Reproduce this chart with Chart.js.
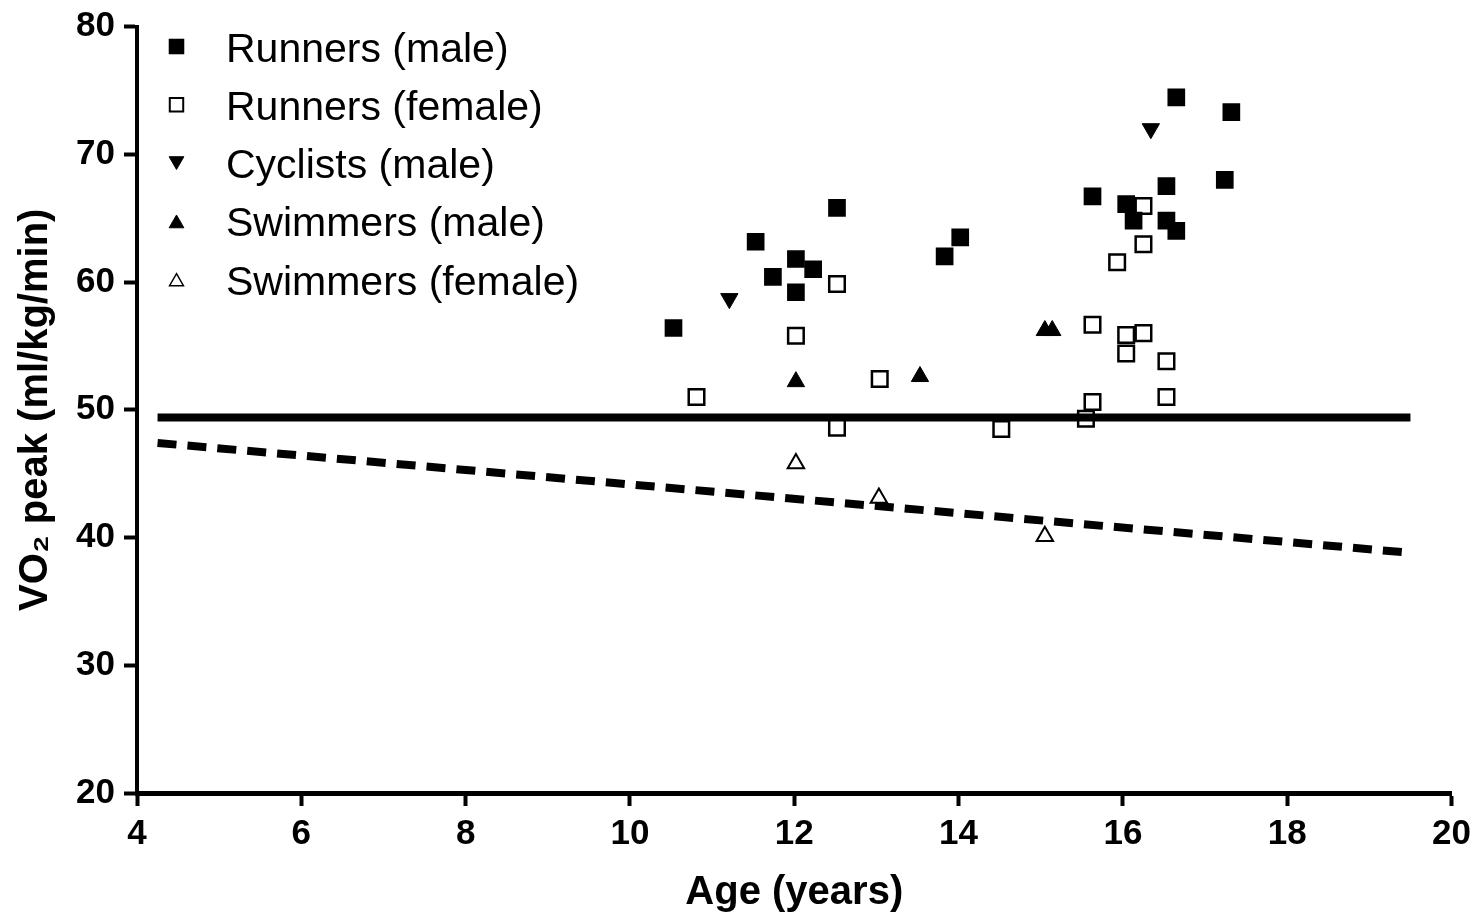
<!DOCTYPE html>
<html>
<head>
<meta charset="utf-8">
<title>VO2 peak vs age</title>
<script src="https://cdn.jsdelivr.net/npm/chart.js@4.4.1/dist/chart.umd.min.js"></script>
<style>
  html, body { margin: 0; padding: 0; background: #fff; }
  #wrap { width: 1482px; height: 913px; position: relative; }
</style>
</head>
<body>
<div id="wrap"><canvas id="vo2Chart"></canvas></div>
<script>
// Values (age in years, VO2 peak in ml/kg/min)
const runnersMaleAge = [10.53, 11.53, 11.74, 12.02, 12.02, 12.23, 12.52, 13.83, 14.02, 15.63, 16.04, 16.13, 16.53, 16.53, 16.65, 16.65, 17.24, 17.32];
const runnersMaleVO2 = [56.4, 63.15, 60.4, 61.8, 59.2, 61.0, 65.8, 62.0, 63.5, 66.7, 66.1, 64.8, 67.5, 64.8, 64.0, 74.45, 68.0, 73.3];

const runnersFemaleAge = [10.81, 12.02, 12.52, 12.52, 13.04, 14.52, 15.55, 15.63, 15.63, 15.93, 16.04, 16.04, 16.25, 16.25, 16.25, 16.53, 16.53];
const runnersFemaleVO2 = [51.0, 55.8, 59.85, 48.6, 52.4, 48.5, 49.3, 50.6, 56.65, 61.55, 55.85, 54.4, 56.0, 62.95, 65.95, 53.8, 51.0];

const cyclistsMaleAge = [11.21, 16.34];
const cyclistsMaleVO2 = [58.7, 72.0];

const swimmersMaleAge = [12.02, 13.53, 15.05, 15.14];
const swimmersMaleVO2 = [52.2, 52.6, 56.2, 56.2];

const swimmersFemaleAge = [12.02, 13.03, 15.05];
const swimmersFemaleVO2 = [45.8, 43.1, 40.1];

// Reference lines
const refLineAge = [4.25, 19.5];
const refSolidVO2 = [49.4, 49.4];
const refDashedVO2 = [47.4, 38.8];

// Axis ticks
const ageTicks = [4, 6, 8, 10, 12, 14, 16, 18, 20];
const vo2Ticks = [20, 30, 40, 50, 60, 70, 80];

const FONT = '"Liberation Sans", Arial, Helvetica, sans-serif';

function toPoints(xs, ys) {
    return xs.map((x, i) => ({ x: x, y: ys[i] }));
}

// Legend drawn in the top-left corner of the plot area
const cornerLegend = {
    id: 'cornerLegend',
    afterDraw(chart) {
        const ctx = chart.ctx;
        const area = chart.chartArea;
        const markerX = area.left + 39.5;
        const textX = area.left + 89;
        const firstRow = area.top + 20;
        const rowGap = 58.3;
        const items = chart.data.datasets.filter(ds => ds.legendMarker);

        ctx.save();
        items.forEach((ds, i) => {
            const y = firstRow + i * rowGap;
            const m = ds.legendMarker;
            let cy = y;
            if (ds.pointStyle === 'triangle') {
                cy += (ds.pointRotation === 180 ? -1 : 1) * m.radius / 4;
            }
            ctx.fillStyle = ds.pointBackgroundColor;
            ctx.strokeStyle = ds.pointBorderColor;
            ctx.lineWidth = m.borderWidth;
            Chart.helpers.drawPoint(ctx, {
                pointStyle: ds.pointStyle,
                radius: m.radius,
                rotation: ds.pointRotation || 0,
                borderWidth: m.borderWidth
            }, markerX, cy);

            ctx.fillStyle = '#000';
            ctx.font = '41px ' + FONT;
            ctx.textAlign = 'left';
            ctx.textBaseline = 'alphabetic';
            ctx.fillText(ds.label, textX, y + 15);
        });
        ctx.restore();
    }
};

const ctx = document.getElementById('vo2Chart');

new Chart(ctx, {
    type: 'scatter',
    data: {
        datasets: [
            {
                label: 'reference',
                data: toPoints(refLineAge, refSolidVO2),
                showLine: true,
                borderColor: '#000',
                borderWidth: 8,
                pointRadius: 0,
                order: 0
            },
            {
                label: 'reference (dashed)',
                data: toPoints(refLineAge, refDashedVO2),
                showLine: true,
                borderColor: '#000',
                borderWidth: 8,
                borderDash: [19, 11],
                borderCapStyle: 'butt',
                pointRadius: 0,
                order: 0
            },
            {
                label: 'Runners (male)',
                data: toPoints(runnersMaleAge, runnersMaleVO2),
                pointStyle: 'rect',
                pointRadius: 12.5,
                pointBackgroundColor: '#000',
                pointBorderColor: '#000',
                pointBorderWidth: 0,
                legendMarker: { radius: 11, borderWidth: 0 },
                order: 1
            },
            {
                label: 'Runners (female)',
                data: toPoints(runnersFemaleAge, runnersFemaleVO2),
                pointStyle: 'rect',
                pointRadius: 11,
                pointBackgroundColor: '#fff',
                pointBorderColor: '#000',
                pointBorderWidth: 2.5,
                legendMarker: { radius: 9.5, borderWidth: 2 },
                order: 1
            },
            {
                label: 'Cyclists (male)',
                data: toPoints(cyclistsMaleAge, cyclistsMaleVO2),
                pointStyle: 'triangle',
                pointRotation: 180,
                pointRadius: 10,
                pointBackgroundColor: '#000',
                pointBorderColor: '#000',
                pointBorderWidth: 1,
                legendMarker: { radius: 8.5, borderWidth: 1 },
                order: 1
            },
            {
                label: 'Swimmers (male)',
                data: toPoints(swimmersMaleAge, swimmersMaleVO2),
                pointStyle: 'triangle',
                pointRadius: 10,
                pointBackgroundColor: '#000',
                pointBorderColor: '#000',
                pointBorderWidth: 1,
                legendMarker: { radius: 8.5, borderWidth: 1 },
                order: 1
            },
            {
                label: 'Swimmers (female)',
                data: toPoints(swimmersFemaleAge, swimmersFemaleVO2),
                pointStyle: 'triangle',
                pointRadius: 9.5,
                pointBackgroundColor: '#fff',
                pointBorderColor: '#000',
                pointBorderWidth: 2,
                legendMarker: { radius: 8, borderWidth: 1.5 },
                order: 1
            }
        ]
    },
    options: {
        responsive: true,
        maintainAspectRatio: false,
        animation: false,
        events: [],
        layout: {
            padding: { top: 25, right: 30, left: 0, bottom: 0 }
        },
        plugins: {
            legend: { display: false },
            tooltip: { enabled: false }
        },
        scales: {
            x: {
                type: 'linear',
                min: 4,
                max: 20,
                afterBuildTicks: scale => { scale.ticks = ageTicks.map(v => ({ value: v })); },
                afterFit: scale => { scale.height = 120; },
                ticks: {
                    color: '#000',
                    autoSkip: false,
                    maxRotation: 0,
                    padding: 11,
                    font: { family: FONT, size: 35, weight: 'bold', lineHeight: 1 }
                },
                grid: {
                    display: true,
                    drawOnChartArea: false,
                    drawTicks: true,
                    tickLength: 13,
                    tickWidth: 4,
                    tickColor: '#000'
                },
                border: { display: true, color: '#000', width: 5 },
                title: {
                    display: true,
                    text: 'Age (years)',
                    color: '#000',
                    padding: { top: 0, bottom: 0 },
                    font: { family: FONT, size: 40, weight: 'bold', lineHeight: 1 }
                }
            },
            y: {
                type: 'linear',
                min: 20,
                max: 80,
                afterBuildTicks: scale => { scale.ticks = vo2Ticks.map(v => ({ value: v })); },
                afterFit: scale => { scale.width = 137; },
                ticks: {
                    color: '#000',
                    autoSkip: false,
                    padding: 9,
                    font: { family: FONT, size: 35, weight: 'bold', lineHeight: 1 }
                },
                grid: {
                    display: true,
                    drawOnChartArea: false,
                    drawTicks: true,
                    tickLength: 13,
                    tickWidth: 4,
                    tickColor: '#000'
                },
                border: { display: true, color: '#000', width: 4 },
                title: {
                    display: true,
                    text: 'VO₂ peak (ml/kg/min)',
                    color: '#000',
                    padding: { top: 16, bottom: 0 },
                    font: { family: FONT, size: 40, weight: 'bold', lineHeight: 1 }
                }
            }
        }
    },
    plugins: [cornerLegend]
});
</script>
</body>
</html>
